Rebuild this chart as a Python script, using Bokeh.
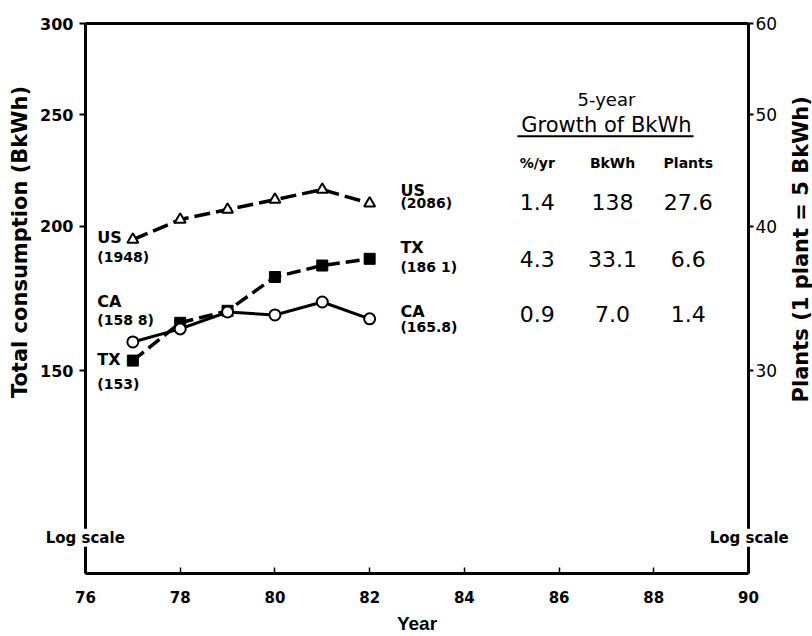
import math
from bokeh.plotting import figure
from bokeh.models import (Range1d, LogAxis, LinearAxis, LogScale, FixedTicker,
                          PrintfTickFormatter, Label)
from bokeh.embed import file_html
from bokeh.resources import INLINE

# ---------------- data ----------------
years = [77, 78, 79, 80, 81, 82]
us_bkwh = [194.8, 202.8, 206.9, 211.0, 215.3, 209.5]
tx_bkwh = [153.0, 165.0, 169.0, 180.8, 185.0, 187.5]
ca_bkwh = [158.8, 163.0, 168.6, 167.6, 172.0, 166.3]

x_ticks = [76, 78, 80, 82, 84, 86, 88, 90]
left_ticks = [150, 200, 250, 300]
right_ticks = [30, 40, 50, 60]

start_names = ["US", "CA", "TX"]
start_values = ["(1948)", "(158 8)", "(153)"]
end_names = ["US", "TX", "CA"]
end_values = ["(2086)", "(186 1)", "(165.8)"]

table_title = ["5-year", "Growth of BkWh"]
table_cols = ["%/yr", "BkWh", "Plants"]
table_rows = [["1.4", "138", "27.6"],
              ["4.3", "33.1", "6.6"],
              ["0.9", "7.0", "1.4"]]

y_title_left = "Total consumption  (BkWh)"
y_title_right = "Plants (1 plant = 5 BkWh)"
notes = ["Log scale", "Log scale"]

FONT = "Liberation Sans"
WIDE = "DejaVu Sans"

# ---------------- figure ----------------
p = figure(width=812, height=636, output_backend="svg", toolbar_location=None,
           x_range=Range1d(76, 90), y_range=Range1d(100, 300), y_axis_type="log",
           min_border_left=85, min_border_right=64, min_border_top=23,
           min_border_bottom=63)
p.background_fill_color = "white"
p.border_fill_color = "white"
p.outline_line_color = None
p.xgrid.visible = False
p.ygrid.visible = False

xa = p.below[0]
la = p.left[0]

p.extra_y_ranges = {"plants": Range1d(20, 60)}
p.extra_y_scales = {"plants": LogScale()}
raxis = LogAxis(y_range_name="plants")
p.add_layout(raxis, "right")

# top frame line (axis without ticks or labels)
top = LinearAxis(ticker=FixedTicker(ticks=[]), axis_line_width=3,
                 major_tick_out=0, major_tick_in=0, minor_tick_out=0,
                 minor_tick_in=0, major_label_text_alpha=0)
p.add_layout(top, "above")

la.ticker = FixedTicker(ticks=left_ticks)
la.formatter = PrintfTickFormatter(format="%d")
raxis.ticker = FixedTicker(ticks=right_ticks)
raxis.formatter = PrintfTickFormatter(format="%d")

for ax in (la, raxis):
    ax.axis_line_width = 3
    ax.major_tick_out = 6
    ax.major_tick_in = 0
    ax.minor_tick_out = 0
    ax.minor_tick_in = 0
    ax.major_tick_line_width = 2
    ax.major_label_text_font = WIDE
    ax.major_label_text_color = "black"
la.major_label_text_font_size = "16px"
la.major_label_text_font_style = "bold"
la.major_label_standoff = 6
raxis.major_tick_out = 5
raxis.major_label_text_font_size = "17px"
raxis.major_label_standoff = 2

xa.ticker = FixedTicker(ticks=x_ticks)
xa.axis_label = "Year"
xa.axis_line_width = 3
xa.major_tick_in = 6
xa.major_tick_out = 0
xa.major_tick_line_width = 1.5
xa.minor_tick_in = 0
xa.minor_tick_out = 0
xa.major_label_text_font = WIDE
xa.major_label_text_font_size = "15px"
xa.major_label_text_font_style = "bold"
xa.major_label_text_color = "black"
xa.major_label_standoff = 17
xa.axis_label_text_font = FONT
xa.axis_label_text_font_size = "19px"
xa.axis_label_text_font_style = "bold"
xa.axis_label_text_color = "black"
xa.axis_label_standoff = 7

# ---------------- series ----------------
p.line(years, us_bkwh, line_color="black", line_width=3.5, line_dash="16 6")
p.scatter(years, us_bkwh, marker="triangle", size=11, fill_color="white",
          line_color="black", line_width=2)
p.line(years, tx_bkwh, line_color="black", line_width=3.5, line_dash="14 6")
p.scatter(years, tx_bkwh, marker="square", size=11, fill_color="black",
          line_color="black", line_width=1)
p.line(years, ca_bkwh, line_color="black", line_width=3)
p.scatter(years, ca_bkwh, marker="circle", size=11, fill_color="white",
          line_color="black", line_width=2)


def lab(x, y, text, size="14px", style="bold", align="left", font=WIDE,
        bg=None, place=None, angle=0, x_offset=0):
    kw = dict(x=x, y=y, text=text, text_font=font, text_font_size=size,
              text_font_style=style, text_align=align, text_baseline="middle",
              text_color="black", angle=angle, x_offset=x_offset)
    if bg:
        kw["background_fill_color"] = bg
    if place:
        p.add_layout(Label(**kw), place)
    else:
        p.add_layout(Label(**kw))


# axis titles (in the side panels, so they can sit off-centre like the original)
lab(76, 195.3, y_title_left, size="21px", style="bold", align="center",
    place="left", angle=math.pi / 2, x_offset=-66)
lab(90, 191.1, y_title_right, size="21px", style="bold", align="center",
    place="right", angle=math.pi / 2, x_offset=52)

# start-of-series labels (left)
start_x = 76.25
start_y = [(195.7, 188.1), (172.0, 166.0), (153.3, 146.1)]
for nm, val, (y1, y2) in zip(start_names, start_values, start_y):
    lab(start_x, y1, nm, size="16px")
    lab(start_x, y2, val, size="14px")

# end-of-series labels (right)
end_x = 82.65
end_y = [(214.9, 209.8), (191.8, 184.4), (168.9, 163.7)]
for nm, val, (y1, y2) in zip(end_names, end_values, end_y):
    lab(end_x, y1, nm, size="16px")
    lab(end_x, y2, val, size="14px")

# growth table
tab_center = 87.0
lab(tab_center, 257.5, table_title[0], size="18px", style="normal", align="center")
lab(tab_center, 245.0, table_title[1], size="21px", style="normal", align="center")
ul_x0, ul_x1, ul_y = 85.12, 88.84, 239.5
p.line([ul_x0, ul_x1], [ul_y, ul_y], line_color="black", line_width=2)
col_x = [85.54, 87.13, 88.73]
for cx, ct in zip(col_x, table_cols):
    lab(cx, 227.1, ct, size="14px", style="bold", align="center")
row_y = [210.2, 187.4, 168.0]
for ry, row in zip(row_y, table_rows):
    for cx, v in zip(col_x, row):
        lab(cx, ry, v, size="22px", style="normal", align="center")

# "Log scale" notes at both lower corners, crossing the axis lines
# (one label in the top side panel so that it is not clipped by the frame)
note_text = notes[0] + "\u00a0" * 112 + notes[1]
lab(75.16, 107.4, note_text, size="15px", style="bold", font=WIDE,
    bg="white", place="above")

open("out.html", "w").write(file_html(p, INLINE))
